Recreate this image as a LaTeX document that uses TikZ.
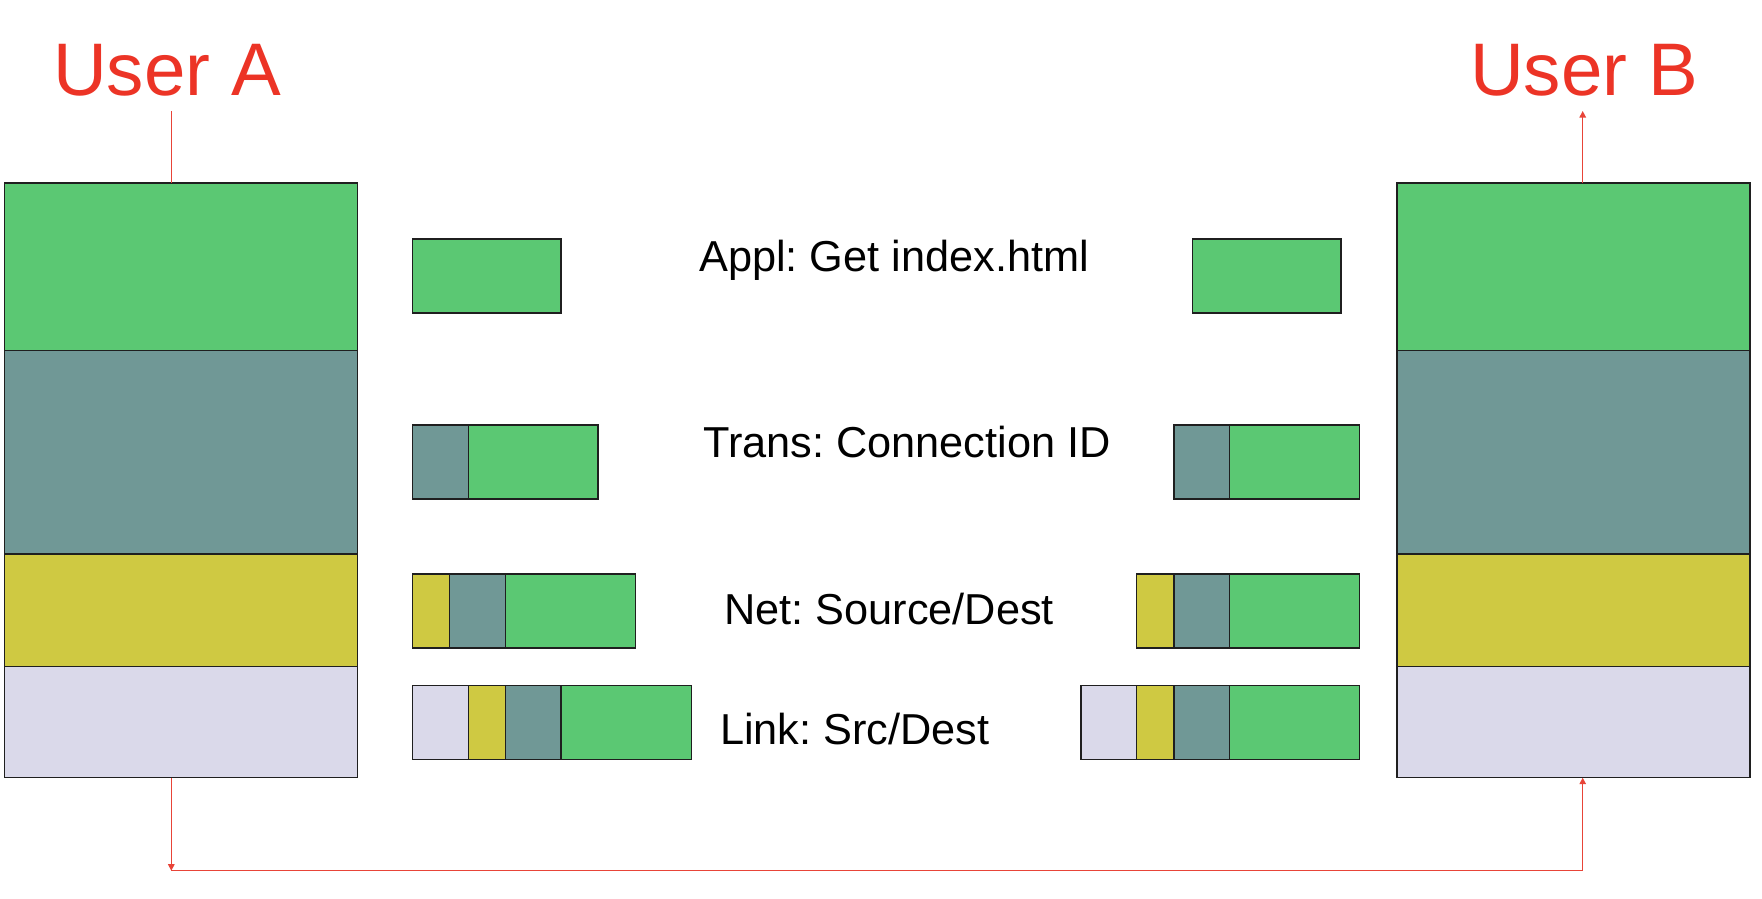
\documentclass[tikz,border=0pt]{standalone}
\usepackage{fontspec}
\setmainfont{Liberation Sans}
\frenchspacing
\usetikzlibrary{arrows.meta}
\definecolor{lgreen}{RGB}{91,200,115}
\definecolor{lteal}{RGB}{112,152,150}
\definecolor{lyellow}{RGB}{207,201,66}
\definecolor{llav}{RGB}{218,217,234}
\definecolor{ured}{RGB}{236,52,38}
\definecolor{lred}{RGB}{232,68,56}
\tikzset{
  layerbox/.style={draw=black!88, line width=1.3pt, inner sep=0pt, outer sep=0pt, anchor=north west},
  pkt/.style={layerbox, minimum height=74pt},
  lbl/.style={inner sep=0pt, anchor=base west, font=\fontsize{43.3}{50}\selectfont},
  user/.style={inner sep=0pt, anchor=base, text=ured, font=\fontsize{74.5}{90}\selectfont},
  redline/.style={draw=lred, line width=1.3pt},
  tip/.style={-{Triangle[width=6.5pt,length=6.5pt]}}
}
\newcommand\pk[5]{\node[pkt, fill=#5, minimum width=#4pt] (#1) at (#2,#3) {};}
\begin{document}
\begin{tikzpicture}[x=1pt,y=-1pt]
\useasboundingbox[fill=white] (0,0) rectangle (1762,898);
% left stack
\node[layerbox, fill=lgreen, minimum width=353pt, minimum height=167.7pt] (aApp) at (4.5,183) {};
\node[layerbox, fill=lteal, minimum width=353pt, minimum height=203.4pt] (aTrans) at (4.5,350.7) {};
\node[layerbox, fill=lyellow, minimum width=353pt, minimum height=112.6pt] (aNet) at (4.5,554.1) {};
\node[layerbox, fill=llav, minimum width=353pt, minimum height=111pt] (aLink) at (4.5,666.7) {};
% right stack
\node[layerbox, fill=lgreen, minimum width=353pt, minimum height=167.7pt] (bApp) at (1397,183) {};
\node[layerbox, fill=lteal, minimum width=353pt, minimum height=203.4pt] (bTrans) at (1397,350.7) {};
\node[layerbox, fill=lyellow, minimum width=353pt, minimum height=112.6pt] (bNet) at (1397,554.1) {};
\node[layerbox, fill=llav, minimum width=353pt, minimum height=111pt] (bLink) at (1397,666.7) {};
% packets left
\pk{lA1}{412.5}{239}{148.5}{lgreen}
\pk{lT1}{412.5}{425}{56}{lteal}
\pk{lT2}{468.5}{425}{129.5}{lgreen}
\pk{lN1}{412.7}{574}{37}{lyellow}
\pk{lN2}{449.7}{574}{55.6}{lteal}
\pk{lN3}{505.3}{574}{130.4}{lgreen}
\pk{lL1}{412.7}{685.7}{55.6}{llav}
\pk{lL2}{468.3}{685.7}{37}{lyellow}
\pk{lL3}{505.3}{685.7}{55.7}{lteal}
\pk{lL4}{561}{685.7}{130.3}{lgreen}
% packets right
\pk{rA1}{1192.5}{239}{148.5}{lgreen}
\pk{rT1}{1174}{425}{55.7}{lteal}
\pk{rT2}{1229.7}{425}{130}{lgreen}
\pk{rN1}{1136.7}{574}{37.3}{lyellow}
\pk{rN2}{1174}{574}{55.7}{lteal}
\pk{rN3}{1229.7}{574}{130}{lgreen}
\pk{rL1}{1081}{685.7}{55.7}{llav}
\pk{rL2}{1136.7}{685.7}{37.3}{lyellow}
\pk{rL3}{1174}{685.7}{55.7}{lteal}
\pk{rL4}{1229.7}{685.7}{130}{lgreen}
% labels
\node[lbl] (tA) at (699,271.7) {Appl: Get index.html};
\node[lbl] (tT) at (703,457.7) {Trans: Connection ID};
\node[lbl] (tN) at (724,624) {Net: Source/Dest};
\node[lbl] (tL) at (720,744) {Link: Src/Dest};
% users
\node[user] (uA) at (167,95.2) {User A};
\node[user] (uB) at (1584,95.2) {User B};
\coordinate (uaTop) at (171.3,111);
\coordinate (ubTop) at (1582.7,111);
\coordinate (bl) at (171.3,870.7);
\coordinate (br) at (1582.7,870.7);
% red connectors
\draw[redline] (uaTop) -- (uaTop |- aApp.north);
\draw[redline,tip] (ubTop |- bApp.north) -- (ubTop);
\draw[redline,tip] (uaTop |- aLink.south) -- (bl);
\draw[redline,tip] (bl) -- (br) -- (br |- bLink.south);
\end{tikzpicture}
\end{document}
